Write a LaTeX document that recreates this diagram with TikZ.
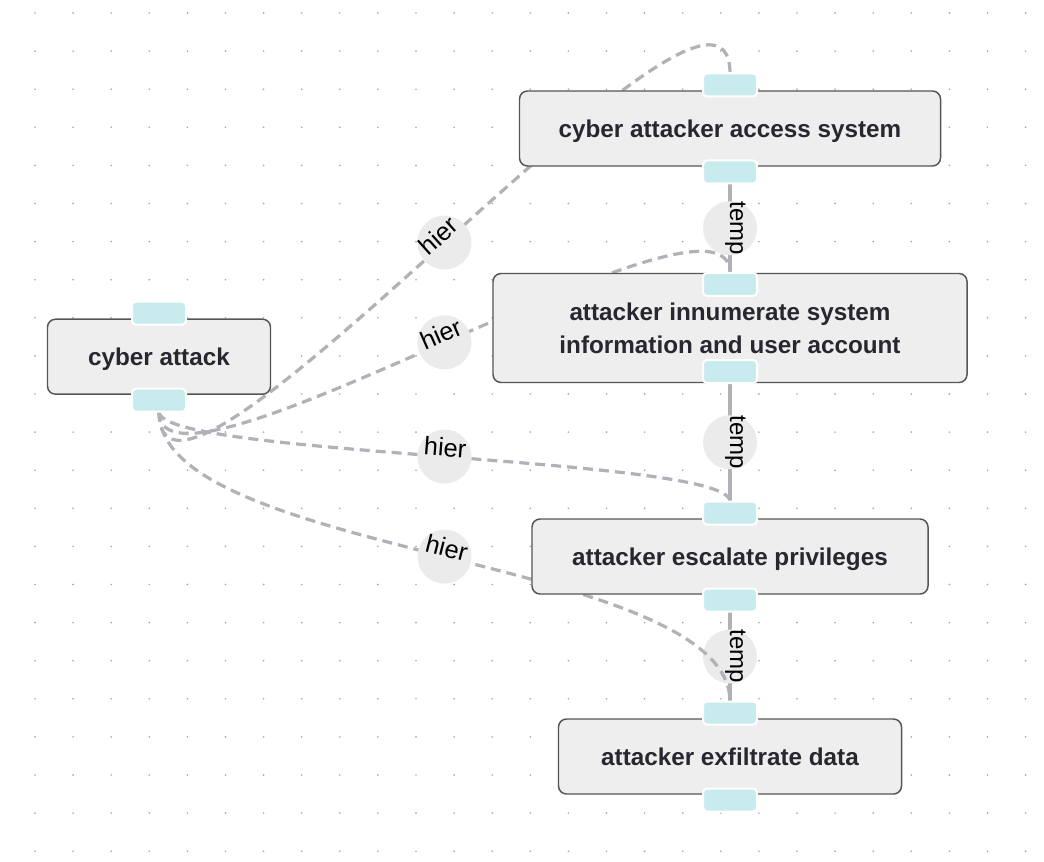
\documentclass[tikz,border=0pt]{standalone}
\usepackage{fontspec}
\setmainfont{Liberation Sans}
\definecolor{boxfill}{HTML}{EEEEEE}
\definecolor{boxline}{HTML}{555555}
\definecolor{portfill}{HTML}{C8EBEE}
\definecolor{edgec}{HTML}{B1B1B7}
\definecolor{lblfill}{HTML}{EBEBEB}
\definecolor{titletxt}{HTML}{27272F}
\definecolor{dotc}{HTML}{A8A8A8}
\newcommand\ttlfnt{\fontsize{18.2pt}{25pt}\selectfont\bfseries}
\newcommand\lblfnt{\fontsize{18pt}{20pt}\selectfont}
\newcommand\hierfnt{\fontsize{19pt}{21pt}\selectfont}
\pgfdeclarelayer{bg}
\pgfdeclarelayer{edges}
\pgfsetlayers{bg,edges,main}
\tikzset{
  box/.style={draw=boxline, fill=boxfill, rounded corners=6pt, line width=1.1pt, minimum height=56.25pt, inner sep=0pt, text=titletxt, font=\ttlfnt, align=center},
  oneline/.style={text height=17.5pt, text depth=4pt},
  port/.style={draw=white, line width=1.5pt, fill=portfill, rounded corners=3pt, minimum width=40.5pt, minimum height=17.25pt, inner sep=0pt, outer sep=0pt},
  hieredge/.style={draw=edgec, line width=2.4pt, dash pattern=on 7.5pt off 4.5pt},
  tempedge/.style={draw=edgec, line width=2.4pt},
  lblbg/.style={circle, fill=lblfill, minimum size=40.5pt, inner sep=0pt, draw=none},
  hiertxt/.style={font=\hierfnt, text=black, inner xsep=0pt, inner ysep=0pt, outer sep=0pt, anchor=south},
  temptxt/.style={font=\lblfnt, text=black, inner sep=0pt, anchor=base},
}
\begin{document}
\begin{tikzpicture}[x=0.75pt, y=-0.75pt]
\useasboundingbox (0,0) rectangle (1044,862);
\begin{pgfonlayer}{bg}
\fill[white] (0,0) rectangle (1044,862);
\foreach \i in {0,...,26}
  \foreach \j in {0,...,22}
    \fill[dotc] (35+38.1*\i, 13+38.1*\j) circle[radius=0.7pt];
\end{pgfonlayer}

% boxes
\node[box, oneline, minimum width=167.25pt] (A) at (159,356.7) {cyber attack};
\node[box, oneline, minimum width=315.75pt] (B) at (730,128.5) {cyber attacker access system};
\node[box, minimum width=355.5pt, minimum height=81.75pt] (C) at (730,328) {attacker innumerate system\\information and user account};
\node[box, oneline, minimum width=297pt] (D) at (730,556.5) {attacker escalate privileges};
\node[box, oneline, minimum width=257.25pt] (E) at (730,756.5) {attacker exfiltrate data};

% ports
\node[port] (At) at (159,313.2) {};
\node[port] (Ab) at (159,400.2) {};
\node[port] (Bt) at (730,85) {};
\node[port] (Bb) at (730,172) {};
\node[port] (Ct) at (730,284.5) {};
\node[port] (Cb) at (730,371.5) {};
\node[port] (Dt) at (730,513) {};
\node[port] (Db) at (730,600) {};
\node[port] (Et) at (730,713) {};
\node[port] (Eb) at (730,800) {};

\begin{pgfonlayer}{edges}
% temporal edges
\draw[tempedge] (Bb.south) -- (Ct.north)
  node[pos=.5, lblbg] (t1) {} node[pos=.5, sloped, temptxt] (t1x) {temp};
\draw[tempedge] (Cb.south) -- (Dt.north)
  node[pos=.5, lblbg] (t2) {} node[pos=.5, sloped, temptxt] (t2x) {temp};
\draw[tempedge] (Db.south) -- (Et.north)
  node[pos=.5, lblbg] (t3) {} node[pos=.5, sloped, temptxt] (t3x) {temp};
% hierarchical edges
\draw[hieredge] (Ab.south) .. controls +(0,174.7) and +(0,-174.7) .. (Bt.north)
  node[pos=.5, lblbg] (h1) {} node[pos=.5, sloped, hiertxt] (h1x) {hier};
\draw[hieredge] (Ab.south) .. controls +(0,111.9) and +(0,-111.9) .. (Ct.north)
  node[pos=.5, lblbg] (h2) {} node[pos=.5, sloped, hiertxt] (h2x) {hier};
\draw[hieredge] (Ab.south) .. controls +(0,44.9) and +(0,-44.9) .. (Dt.north)
  node[pos=.5, lblbg] (h3) {} node[pos=.5, sloped, hiertxt] (h3x) {hier};
\draw[hieredge] (Ab.south) .. controls +(0,144.9) and +(0,-144.9) .. (Et.north)
  node[pos=.5, lblbg] (h4) {} node[pos=.5, sloped, hiertxt] (h4x) {hier};
\end{pgfonlayer}
\end{tikzpicture}
\end{document}
